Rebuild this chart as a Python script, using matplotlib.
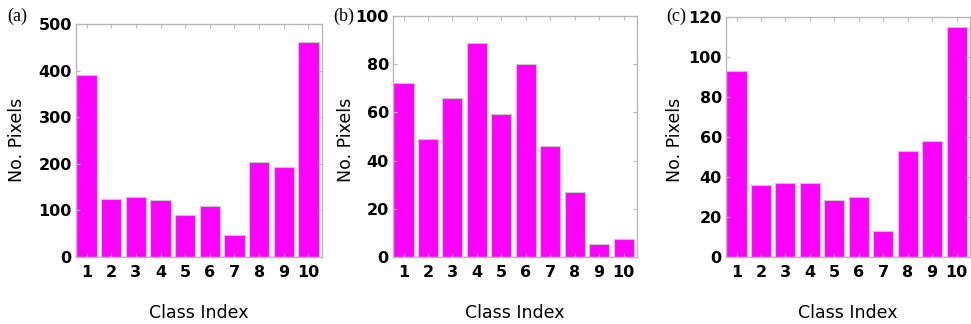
import matplotlib
matplotlib.use('Agg')
import matplotlib.pyplot as plt

classes = list(range(1, 11))
pixels_a = [390, 124, 128, 122, 90, 110, 47, 204, 194, 461]
pixels_b = [72, 49, 66, 89, 59.5, 80, 46, 27, 5.5, 7.5]
pixels_c = [93, 36, 37, 37, 28.5, 30, 13, 53, 58, 115]
ylims = [500, 100, 120]
ysteps = [100, 20, 20]
tags = ['(a)', '(b)', '(c)']

SPINE = '#b8b8b8'

fig = plt.figure(figsize=(9.71, 3.24), dpi=100)
W, H = 971, 324
boxes = [(76, 24, 322, 257), (393, 16, 637, 257), (726, 17, 970, 257)]
ylab_x = [17, 346, 675]
tag_pos = [(7, 16), (333, 16), (666, 16)]

for i, vals in enumerate([pixels_a, pixels_b, pixels_c]):
    x0, y0, x1, y1 = boxes[i]
    ax = fig.add_axes([x0 / W, 1 - y1 / H, (x1 - x0) / W, (y1 - y0) / H])
    ax.bar(classes, vals, width=0.82, color='#ff00ff', edgecolor='#c8c8c8', linewidth=0.8)
    ax.set_xlim(0.57, 10.55)
    ax.set_ylim(0, ylims[i])
    ax.set_xticks(classes)
    ax.set_yticks(range(0, ylims[i] + 1, ysteps[i]))
    ax.tick_params(direction='in', length=3, color=SPINE, top=True, right=True)
    ax.tick_params(axis='x', pad=6)
    ax.tick_params(axis='y', pad=3)
    for lab in ax.get_xticklabels() + ax.get_yticklabels():
        lab.set_fontweight('bold')
        lab.set_fontsize(11.5)
    for s in ax.spines.values():
        s.set_color(SPINE)
        s.set_linewidth(1.0)
    fig.text((x0 + x1) / 2 / W, 1 - 313 / H, 'Class Index', fontsize=12.5,
             ha='center', va='center')
    fig.text(ylab_x[i] / W, 1 - 140 / H, 'No. Pixels', rotation=90, fontsize=12.5,
             ha='center', va='center')
    fig.text(tag_pos[i][0] / W, 1 - tag_pos[i][1] / H, tags[i], fontsize=13,
             family='Liberation Serif', ha='left', va='center')

fig.savefig('out.png', dpi=100)
